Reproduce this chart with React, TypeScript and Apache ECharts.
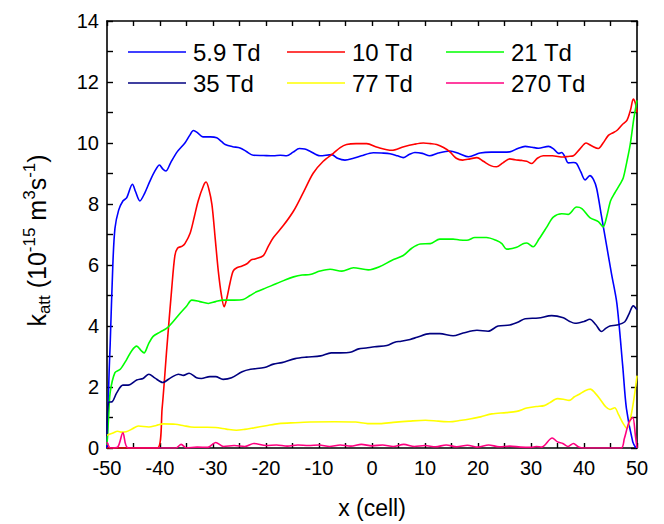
import React, { useEffect, useRef } from "react";
import * as echarts from "echarts";

const seriesNames = ["5.9 Td", "10 Td", "21 Td", "35 Td", "77 Td", "270 Td"];
const seriesColors = ["#0000FF", "#FF0000", "#00FF00", "#000080", "#FFFF00", "#FF0080"];

const td5_9: number[][] = [
  [-50, 0], [-49.6, 2.5], [-49.4, 3.4], [-48.9, 6.0], [-48.5, 7.2], [-47.8, 7.8], [-47.0, 8.1], [-46.3, 8.2],
  [-45.2, 8.65], [-44.6, 8.4], [-43.8, 8.1], [-42.9, 8.35], [-41.9, 8.75], [-40.9, 9.1], [-40.1, 9.28],
  [-39.5, 9.15], [-38.9, 9.08], [-38.0, 9.35], [-36.8, 9.7], [-35.3, 10.0], [-34.4, 10.25], [-33.7, 10.41],
  [-33.0, 10.35], [-31.9, 10.2], [-30.5, 10.2], [-29.3, 10.17], [-28.4, 10.05], [-27.7, 9.95], [-26.3, 9.88],
  [-24.9, 9.84], [-23.7, 9.72], [-22.4, 9.6], [-20.5, 9.59], [-18.6, 9.58], [-17.3, 9.6], [-16.1, 9.58],
  [-14.9, 9.7], [-13.7, 9.82], [-12.7, 9.8], [-11.7, 9.73], [-9.8, 9.58], [-7.6, 9.62], [-6.5, 9.5],
  [-5.1, 9.44], [-3.5, 9.5], [-2, 9.58], [0.25, 9.68], [1.8, 9.67], [3.4, 9.65], [4.8, 9.58], [5.9, 9.52],
  [7, 9.62], [8.1, 9.69], [9.5, 9.66], [10.9, 9.58], [12.5, 9.67], [14.7, 9.74], [16.5, 9.65], [18.2, 9.55],
  [20.4, 9.67], [22.5, 9.7], [24.5, 9.7], [26.0, 9.71], [27.5, 9.82], [28.9, 9.89], [30.2, 9.86], [31.4, 9.83],
  [33.3, 9.89], [34.3, 9.8], [35.2, 9.66], [35.8, 9.69], [36.4, 9.55], [37.0, 9.35], [38.0, 9.36], [38.6, 9.33],
  [39.4, 9.05], [40.2, 8.79], [41.1, 8.93], [41.8, 8.8], [42.4, 8.5], [43.3, 7.6], [44.3, 6.6], [45.2, 5.7],
  [46.2, 4.74], [47.3, 2.7], [48.0, 1.3], [49.2, 0.2], [49.8, 0],
];

const td10: number[][] = [
  [-50, 0], [-40.5, 0], [-39.6, 1.3], [-38.7, 3.3], [-37.8, 5.2], [-37.2, 6.3], [-36.7, 6.55], [-35.8, 6.62],
  [-35.3, 6.7], [-34.3, 7.05], [-33.5, 7.6], [-32.8, 8.1], [-31.8, 8.6], [-31.3, 8.72], [-30.8, 8.5],
  [-30.2, 7.98], [-29.6, 6.9], [-29.0, 5.8], [-28.4, 5.0], [-27.9, 4.63], [-27.4, 4.9], [-26.8, 5.4],
  [-26.2, 5.8], [-25.5, 5.91], [-24.6, 5.96], [-23.6, 6.04], [-22.8, 6.17], [-22.1, 6.2], [-20.5, 6.31],
  [-19.6, 6.6], [-18.6, 6.9], [-16.7, 7.3], [-14.8, 7.77], [-12.9, 8.4], [-11.1, 9.01], [-9.2, 9.4],
  [-7.3, 9.66], [-6, 9.85], [-4.8, 9.95], [-3, 9.98], [-1.0, 9.98], [1, 9.86], [3.7, 9.76], [6, 9.88],
  [8, 9.96], [9.7, 10.0], [11, 9.98], [12.2, 9.95], [13.5, 9.85], [14.7, 9.71], [15.9, 9.5], [17.1, 9.44],
  [18.5, 9.48], [19.8, 9.52], [21, 9.4], [22.5, 9.25], [23.5, 9.22], [24.7, 9.35], [26.0, 9.48], [27, 9.45],
  [28.2, 9.43], [29.2, 9.4], [30.1, 9.33], [31.2, 9.5], [32.3, 9.58], [34, 9.58], [36.1, 9.54], [37, 9.56],
  [38.0, 9.58], [39.2, 9.8], [40.4, 10.0], [41.5, 9.9], [42.7, 9.82], [43.6, 10.0], [44.6, 10.25], [45.4, 10.33],
  [46.2, 10.41], [47.2, 10.6], [48.1, 10.74], [48.8, 11.1], [49.3, 11.44], [49.7, 11.3], [50, 11.0],
];

const td21: number[][] = [
  [-50, 0.1], [-49.7, 1.0], [-49.4, 1.82], [-48.5, 2.47], [-47.5, 2.58], [-46.3, 2.9], [-45.3, 3.2],
  [-44.4, 3.34], [-43.6, 3.2], [-43.0, 3.12], [-42.2, 3.4], [-41.3, 3.66], [-40, 3.8], [-38.7, 3.93],
  [-37.5, 4.15], [-36.2, 4.42], [-35, 4.65], [-34.0, 4.85], [-32.5, 4.8], [-30.9, 4.74], [-29.5, 4.8],
  [-28.1, 4.85], [-26, 4.85], [-24.3, 4.87], [-23, 5.0], [-21.8, 5.12], [-20, 5.25], [-18.0, 5.39],
  [-16.3, 5.52], [-14.8, 5.61], [-13.2, 5.67], [-11.7, 5.69], [-9.8, 5.8], [-7.9, 5.86], [-5.7, 5.8],
  [-3.5, 5.91], [-0.7, 5.84], [1.5, 5.95], [3.7, 6.15], [5.9, 6.31], [7.5, 6.55], [9.1, 6.69], [11, 6.7],
  [12.8, 6.85], [15.3, 6.85], [16.5, 6.82], [17.9, 6.81], [19.4, 6.9], [21.6, 6.9], [23.5, 6.8], [24.5, 6.7],
  [25.4, 6.52], [27.3, 6.58], [28.5, 6.7], [29.2, 6.72], [30.4, 6.6], [31.5, 6.85], [33, 7.25], [34.2, 7.57],
  [35.8, 7.68], [37.0, 7.66], [38.6, 7.9], [39.6, 7.85], [41.1, 7.55], [42.7, 7.42], [43.6, 7.25], [44.3, 7.6],
  [45.0, 8.1], [45.8, 8.36], [46.8, 8.65], [47.4, 8.85], [48.1, 9.4], [48.7, 9.93], [49.4, 10.8], [50, 11.4],
];

const td35: number[][] = [
  [-50, 0.4], [-49.7, 1.5], [-49.0, 1.52], [-48.2, 1.8], [-47.0, 2.06], [-46.0, 2.06], [-44.4, 2.23],
  [-43.2, 2.28], [-42.1, 2.42], [-41, 2.3], [-39.5, 2.15], [-38, 2.3], [-36.5, 2.42], [-35.6, 2.38],
  [-34.5, 2.45], [-33.1, 2.3], [-32.2, 2.28], [-30.6, 2.34], [-29.5, 2.34], [-28.1, 2.25], [-26.5, 2.3],
  [-24.5, 2.5], [-22.9, 2.58], [-20.3, 2.64], [-18.6, 2.75], [-17.0, 2.8], [-14.5, 2.93], [-12.4, 2.98],
  [-9.7, 3.02], [-7.7, 3.12], [-6, 3.12], [-4.1, 3.14], [-2.5, 3.25], [-1.1, 3.28], [0.5, 3.32], [2.8, 3.36],
  [4.3, 3.47], [5.5, 3.5], [7.2, 3.56], [8.5, 3.63], [10.9, 3.75], [12.8, 3.75], [15.3, 3.68], [17.2, 3.77],
  [19.8, 3.86], [21.9, 3.83], [23.8, 4.0], [26.0, 4.03], [27.5, 4.12], [28.9, 4.24], [31.4, 4.26], [33.9, 4.34],
  [36.1, 4.27], [37.3, 4.15], [38.3, 4.09], [40, 4.15], [41.1, 4.22], [42.2, 4.05], [43.3, 3.82], [44.1, 3.92],
  [44.9, 4.0], [46.2, 4.03], [47.7, 4.14], [48.5, 4.4], [49.3, 4.66], [50, 4.53],
];

const td77: number[][] = [
  [-50, 0.42], [-49, 0.48], [-48.0, 0.55], [-47.2, 0.52], [-46.4, 0.53], [-45.2, 0.63], [-44.1, 0.72],
  [-42.1, 0.69], [-40.7, 0.74], [-39.4, 0.79], [-37.1, 0.78], [-35.5, 0.73], [-34.2, 0.69], [-31.8, 0.68],
  [-29.5, 0.67], [-27.5, 0.62], [-25.6, 0.58], [-24, 0.61], [-22.3, 0.66], [-20, 0.73], [-17.6, 0.8],
  [-14.5, 0.83], [-11.7, 0.85], [-7, 0.86], [-3.1, 0.85], [-0.8, 0.8], [1.5, 0.8], [4, 0.84], [7, 0.88],
  [10.1, 0.91], [12.5, 0.88], [14.7, 0.86], [16.5, 0.9], [18.7, 0.96], [20.5, 1.02], [22.6, 1.12], [25.3, 1.16],
  [27.3, 1.2], [29.2, 1.31], [31, 1.36], [32.5, 1.39], [33.5, 1.48], [35.0, 1.62], [36.1, 1.6], [37.2, 1.56],
  [38.2, 1.68], [39.2, 1.77], [40.2, 1.88], [41.2, 1.93], [42.1, 1.8], [43.0, 1.61], [44.1, 1.35], [44.9, 1.26],
  [45.8, 1.32], [46.5, 1.1], [47.4, 0.8], [48.1, 0.64], [48.8, 1.0], [49.5, 1.7], [50, 2.37],
];

const td270: number[][] = [
  [-50, 0.2], [-49.3, 0], [-48, 0.03], [-47, 0.5], [-46, 0], [-37, 0], [-36, 0.12], [-35, 0], [-33, 0.03],
  [-31, 0.02], [-29.5, 0.18], [-28, 0.05], [-26, 0.08], [-24, 0.05], [-22.3, 0.15], [-20, 0.08], [-18, 0.1],
  [-16, 0.06], [-14, 0.1], [-12, 0.08], [-10, 0.1], [-8, 0.05], [-6, 0.1], [-4, 0.06], [-2, 0.12], [0, 0.07],
  [2, 0.1], [4, 0.05], [6, 0.12], [8, 0.05], [10, 0.08], [12, 0.04], [14, 0.1], [16, 0.04], [18, 0.09],
  [20, 0.03], [22, 0.1], [24, 0.04], [26, 0.06], [28, 0.03], [30, 0.02], [31, 0.05], [32, 0.03], [34, 0.33],
  [35, 0.2], [36, 0.15], [37, 0.05], [38, 0.15], [39, 0.03], [40, 0], [47, 0], [47.6, 0.3], [48.5, 0.85],
  [49.2, 1.0], [49.7, 0.4], [50, 0],
];

const seriesData = [td5_9, td10, td21, td35, td77, td270];

const xTicksMin = -50;
const xTicksMax = 50;
const yTicksMin = 0;
const yTicksMax = 14;

const FONT = "'Liberation Sans', Arial, sans-serif";

export default function App() {
  const ref = useRef<HTMLDivElement>(null);
  useEffect(() => {
    if (!ref.current) return;
    const chart = echarts.init(ref.current, undefined, { renderer: "svg" });
    const axisLine = { show: true, onZero: false, lineStyle: { color: "#000", width: 1.6 } };
    const tick = (len: number) => ({ show: true, inside: true, length: len, lineStyle: { color: "#000", width: 1.4 } });
    const legendCommon = {
      orient: "vertical",
      icon: "rect",
      itemWidth: 58,
      itemHeight: 1.6,
      itemGap: 7,
      padding: 0,
      textStyle: { fontSize: 24, color: "#000", fontFamily: FONT, padding: [0, 0, 0, 2] },
      top: 40,
    };
    chart.setOption({
      animation: false,
      backgroundColor: "#fff",
      grid: { left: 107, right: 27, top: 21, bottom: 71, containLabel: false },
      legend: [
        { ...legendCommon, left: 128, data: [seriesNames[0], seriesNames[3]] },
        { ...legendCommon, left: 287, data: [seriesNames[1], seriesNames[4]] },
        { ...legendCommon, left: 446, data: [seriesNames[2], seriesNames[5]] },
      ],
      xAxis: [
        {
          type: "value", min: xTicksMin, max: xTicksMax, interval: 5, position: "bottom",
          axisLine, axisTick: tick(5), splitLine: { show: false },
          axisLabel: {
            fontSize: 20, color: "#000", fontFamily: FONT, margin: 10,
            formatter: (v: number) => (v % 10 === 0 ? String(v) : ""),
          },
          name: "x (cell)", nameLocation: "middle", nameGap: 48,
          nameTextStyle: { fontSize: 23, color: "#000", fontFamily: FONT },
        },
        {
          type: "value", min: xTicksMin, max: xTicksMax, interval: 5, position: "top",
          axisLine, axisTick: tick(5), splitLine: { show: false }, axisLabel: { show: false },
        },
      ],
      yAxis: [
        {
          type: "value", min: yTicksMin, max: yTicksMax, interval: 1, position: "left",
          axisLine, axisTick: tick(6), splitLine: { show: false },
          axisLabel: {
            fontSize: 20, color: "#000", fontFamily: FONT, margin: 8,
            formatter: (v: number) => (v % 2 === 0 ? String(v) : ""),
          },
          name: "{n|k}{sub|att}{n| (10}{sup|-15}{n| m}{sup|3}{n|s}{sup|-1}{n|)}",
          nameLocation: "middle", nameRotate: 90, nameGap: 54,
          nameTextStyle: {
            color: "#000", fontFamily: FONT, padding: [0, 12, 0, 0],
            rich: {
              n: { fontSize: 25, color: "#000", fontFamily: FONT, lineHeight: 32, verticalAlign: "middle" },
              sup: { fontSize: 17, color: "#000", fontFamily: FONT, lineHeight: 16, verticalAlign: "top" },
              sub: { fontSize: 17, color: "#000", fontFamily: FONT, lineHeight: 16, verticalAlign: "bottom" },
            },
          },
        },
        {
          type: "value", min: yTicksMin, max: yTicksMax, interval: 1, position: "right",
          axisLine, axisTick: tick(6), splitLine: { show: false }, axisLabel: { show: false },
        },
      ],
      series: seriesNames.map((name, i) => ({
        name,
        type: "line",
        data: seriesData[i],
        xAxisIndex: 0,
        yAxisIndex: 0,
        symbol: "none",
        smooth: 0.3,
        clip: true,
        lineStyle: { color: seriesColors[i], width: 1.6 },
        itemStyle: { color: seriesColors[i] },
        z: 2 + i,
      })),
    });
    return () => chart.dispose();
  }, []);
  return <div ref={ref} style={{ width: 664, height: 524, position: "absolute", left: 0, top: 0 }} />;
}
